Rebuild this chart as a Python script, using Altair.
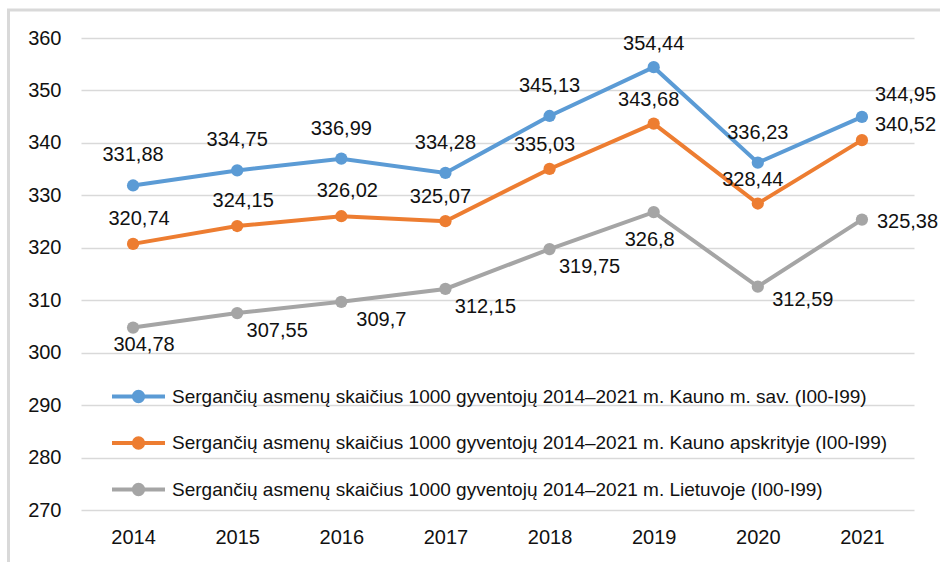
import altair as alt
import pandas as pd

years = ["2014", "2015", "2016", "2017", "2018", "2019", "2020", "2021"]
kaunas_city = [331.88, 334.75, 336.99, 334.28, 345.13, 354.44, 336.23, 344.95]
kaunas_county = [320.74, 324.15, 326.02, 325.07, 335.03, 343.68, 328.44, 340.52]
lithuania = [304.78, 307.55, 309.7, 312.15, 319.75, 326.8, 312.59, 325.38]
series_names = [
    "Sergančių asmenų skaičius 1000 gyventojų 2014–2021 m. Kauno m. sav. (I00-I99)",
    "Sergančių asmenų skaičius 1000 gyventojų 2014–2021 m. Kauno apskrityje (I00-I99)",
    "Sergančių asmenų skaičius 1000 gyventojų 2014–2021 m. Lietuvoje (I00-I99)",
]
colors = ["#5B9BD5", "#ED7D31", "#A5A5A5"]
y_ticks = [270, 280, 290, 300, 310, 320, 330, 340, 350, 360]

rows = []
for name, vals in zip(series_names, [kaunas_city, kaunas_county, lithuania]):
    for yr, v in zip(years, vals):
        rows.append({"series": name, "year": yr, "value": v,
                     "label": str(v).replace(".", ",")})
df = pd.DataFrame(rows)

FONT = "Liberation Sans, Arial"
W, H = 833, 472

x_enc = alt.X("year:N", scale=alt.Scale(type="point", padding=0.5),
              axis=alt.Axis(title=None, labelAngle=0, domain=False, ticks=False,
                            grid=False, labelPadding=17, labelFontSize=20,
                            labelFont=FONT, labelColor="#111"))
y_enc = alt.Y("value:Q", scale=alt.Scale(domain=[270, 360], nice=False, zero=False),
              axis=alt.Axis(title=None, values=y_ticks, domain=False, ticks=False,
                            grid=True, gridColor="#d9d9d9", gridWidth=1.5,
                            labelPadding=20, labelFontSize=20, labelFont=FONT,
                            labelColor="#111"))

legend_path = ("M-2,0H2"
               "M-0.35,0A0.35,0.35,0,1,1,0.35,0A0.35,0.35,0,1,1,-0.35,0"
               "M-0.12,0A0.12,0.12,0,1,1,0.12,0A0.12,0.12,0,1,1,-0.12,0")

base = alt.Chart(df)

lines = base.mark_line(strokeWidth=4).encode(
    x=x_enc, y=y_enc,
    color=alt.Color("series:N", scale=alt.Scale(domain=series_names, range=colors),
                    legend=alt.Legend(title=None, orient="none", direction="vertical",
                                      legendX=42, legendY=343, padding=0,
                                      symbolType=legend_path, symbolSize=702,
                                      symbolStrokeWidth=4, labelFont=FONT,
                                      labelFontSize=19, labelOffset=18,
                                      rowPadding=17.5, labelLimit=1000,
                                      labelColor="#111")),
)

points = base.mark_circle(size=150, opacity=1).encode(
    x=x_enc, y=y_enc,
    fill=alt.Fill("series:N", scale=alt.Scale(domain=series_names, range=colors),
                  legend=None),
)


def labels(series, yrs, dx, dy, align="center"):
    return base.transform_filter(
        alt.datum.series == series
    ).transform_filter(
        alt.FieldOneOfPredicate(field="year", oneOf=yrs)
    ).mark_text(font=FONT, fontSize=20, color="#111", dx=dx, dy=dy,
                align=align, baseline="middle").encode(
        x=x_enc, y=y_enc, text="label:N")


b, o, g = series_names
label_layers = [
    labels(b, ["2014", "2015", "2016", "2017", "2018", "2020"], 0, -30),
    labels(b, ["2019"], 0, -23),
    labels(b, ["2021"], 13, -22, "left"),
    labels(o, ["2014", "2015", "2016"], 6, -25),
    labels(o, ["2017", "2018", "2019", "2020"], -5, -24),
    labels(o, ["2021"], 13, -15, "left"),
    labels(g, ["2014"], 11, 17),
    labels(g, ["2015", "2016", "2017", "2018"], 40, 18),
    labels(g, ["2019"], -4, 28),
    labels(g, ["2020"], 45, 13),
    labels(g, ["2021"], 15, 2, "left"),
]

frame = alt.Chart(alt.Data(values=[{}])).mark_rect(
    fill=None, stroke="#d9d9d9", strokeWidth=3
).encode(
    x=alt.value(-72.5), x2=alt.value(W + 60),
    y=alt.value(-28), y2=alt.value(H + 80),
)

chart = alt.layer(frame, lines, points, *label_layers).properties(
    width=W, height=H,
    autosize=alt.AutoSizeParams(type="none"),
    padding={"left": 81, "top": 38, "right": 26, "bottom": 52},
    background="white",
).configure_view(stroke=None)

chart.save("out.html", embed_options={"renderer": "svg", "actions": False})
